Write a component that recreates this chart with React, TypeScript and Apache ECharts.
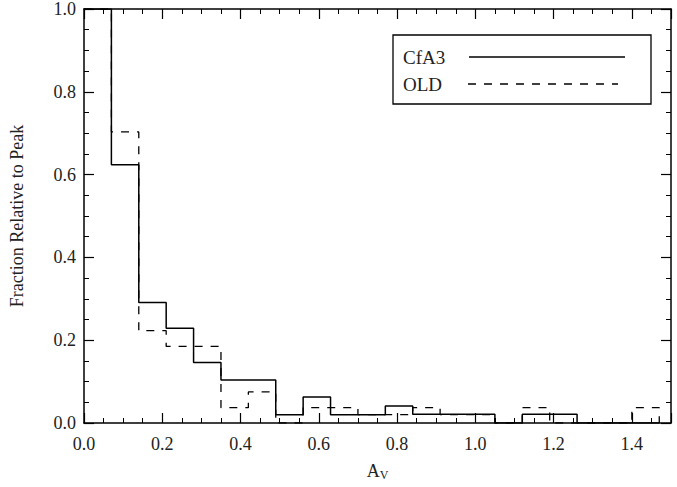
import React, { useRef, useEffect } from "react";
import * as echarts from "echarts";

const binWidth = 0.07;
const cfa3Values = [1.0, 0.624, 0.291, 0.229, 0.146, 0.104, 0.104, 0.02, 0.063, 0.02, 0.02, 0.041, 0.021, 0.021, 0.021, 0, 0.021, 0.021, 0, 0, 0];
const oldValues = [1.0, 0.703, 0.223, 0.185, 0.185, 0.037, 0.075, 0, 0.037, 0.037, 0.02, 0.02, 0.037, 0.02, 0.02, 0, 0.037, 0, 0, 0, 0.037];
const xTicks = [0.0, 0.2, 0.4, 0.6, 0.8, 1.0, 1.2, 1.4];
const yTicks = [0.0, 0.2, 0.4, 0.6, 0.8, 1.0];

const FONT = "Liberation Serif";

function stepPoints(values: number[]) {
  const pts = values.map((v, i) => [+(i * binWidth).toFixed(2), v]);
  pts.push([+(values.length * binWidth).toFixed(2), 0]);
  return pts;
}

function buildOption() {
  const axisCommon = {
    axisLine: { onZero: false, lineStyle: { color: "#000", width: 1.5 } },
    axisTick: { inside: true, length: 10, lineStyle: { color: "#000", width: 1.2 } },
    minorTick: { show: true, splitNumber: 4, length: 5, lineStyle: { color: "#000" } },
    splitLine: { show: false },
  };
  return {
    animation: false,
    backgroundColor: "#fff",
    grid: { left: 83, right: 6, top: 7, bottom: 64 },
    xAxis: [
      {
        ...axisCommon,
        type: "value",
        min: 0,
        max: 1.5,
        interval: 0.2,
        name: "{a|A}{s|V}",
        nameLocation: "middle",
        nameGap: 38,
        nameTextStyle: {
          rich: {
            a: { fontFamily: FONT, fontSize: 18, color: "#222" },
            s: { fontFamily: FONT, fontSize: 12, color: "#222", verticalAlign: "bottom", padding: [8, 0, 0, 0] },
          },
        },
        axisLabel: {
          color: "#222",
          fontFamily: FONT,
          fontSize: 18,
          margin: 12,
          formatter: (v: number) => (xTicks.some((t) => Math.abs(t - v) < 1e-6) ? v.toFixed(1) : ""),
        },
      },
      {
        ...axisCommon,
        type: "value",
        position: "top",
        min: 0,
        max: 1.5,
        interval: 0.2,
        axisLabel: { show: false },
      },
    ],
    yAxis: [
      {
        ...axisCommon,
        type: "value",
        min: 0,
        max: 1.0,
        interval: 0.2,
        name: "Fraction Relative to Peak",
        nameLocation: "middle",
        nameGap: 58,
        nameTextStyle: { fontFamily: FONT, fontSize: 18, color: "#222" },
        axisLabel: {
          color: "#222",
          fontFamily: FONT,
          fontSize: 18,
          margin: 8,
          formatter: (v: number) => (yTicks.some((t) => Math.abs(t - v) < 1e-6) ? v.toFixed(1) : ""),
        },
      },
      {
        ...axisCommon,
        type: "value",
        position: "right",
        min: 0,
        max: 1.0,
        interval: 0.2,
        axisLabel: { show: false },
      },
    ],
    series: [
      {
        name: "OLD",
        type: "line",
        step: "end",
        data: stepPoints(oldValues),
        symbol: "none",
        lineStyle: { color: "#000", width: 1.3, type: [8, 8] },
      },
      {
        name: "CfA3",
        type: "line",
        step: "end",
        data: stepPoints(cfa3Values),
        symbol: "none",
        lineStyle: { color: "#000", width: 1.5 },
      },
      { type: "line", xAxisIndex: 1, yAxisIndex: 1, data: [], silent: true },
    ],
    graphic: [
      { type: "rect", shape: { x: 393, y: 35, width: 258, height: 69 }, style: { fill: "#fff", stroke: "#000", lineWidth: 1.3 } },
      { type: "text", x: 403, y: 57, style: { text: "CfA3", font: `19px '${FONT}'`, fill: "#222", verticalAlign: "middle" } },
      { type: "line", shape: { x1: 469, y1: 57, x2: 625, y2: 57 }, style: { stroke: "#000", lineWidth: 1.3 } },
      { type: "text", x: 403, y: 84, style: { text: "OLD", font: `19px '${FONT}'`, fill: "#222", verticalAlign: "middle" } },
      { type: "line", shape: { x1: 468, y1: 84, x2: 618, y2: 84 }, style: { stroke: "#000", lineWidth: 1.3, lineDash: [8, 8] } },
    ],
  };
}

export default function App() {
  const ref = useRef<HTMLDivElement>(null);
  useEffect(() => {
    document.body.style.margin = "0";
    if (!ref.current) return;
    const chart = echarts.init(ref.current, undefined, { renderer: "svg" });
    // eslint-disable-next-line @typescript-eslint/no-explicit-any
    chart.setOption(buildOption() as any);
    return () => chart.dispose();
  }, []);
  return <div ref={ref} style={{ width: 677, height: 487 }} />;
}
